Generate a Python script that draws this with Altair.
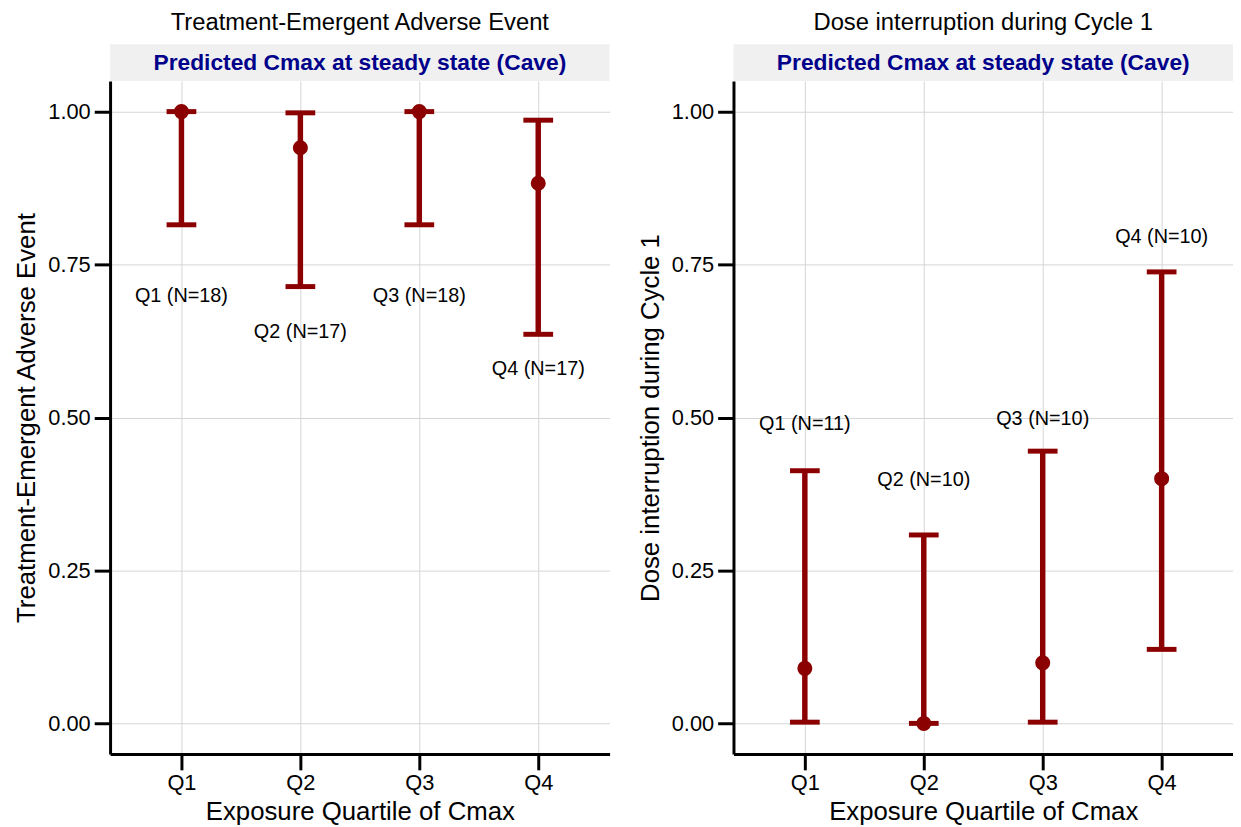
import altair as alt
import pandas as pd

# ---- data ----
quartiles = ["Q1", "Q2", "Q3", "Q4"]

tea_est = [1.000, 0.941, 1.000, 0.883]
tea_lo = [0.815, 0.714, 0.815, 0.636]
tea_hi = [1.000, 0.998, 1.000, 0.986]
tea_lab = ["Q1 (N=18)", "Q2 (N=17)", "Q3 (N=18)", "Q4 (N=17)"]
tea_lab_y = [0.699, 0.639, 0.699, 0.580]

di_est = [0.090, 0.000, 0.099, 0.400]
di_lo = [0.002, 0.000, 0.002, 0.121]
di_hi = [0.413, 0.308, 0.445, 0.738]
di_lab = ["Q1 (N=11)", "Q2 (N=10)", "Q3 (N=10)", "Q4 (N=10)"]
di_lab_y = [0.489, 0.398, 0.498, 0.795]

y_ticks = [0.0, 0.25, 0.5, 0.75, 1.0]
strip_text = "Predicted Cmax at steady state (Cave)"
x_title = "Exposure Quartile of Cmax"

F = "Liberation Sans"
RED = "#8B0000"
W = 504
H = 679
SH = 37


def panel(title, ytitle, est, lo, hi, labels, laby):
    df = pd.DataFrame({"q": quartiles, "est": est, "lo": lo, "hi": hi,
                       "lab": labels, "laby": laby})
    x = alt.X("q:N", title=x_title, sort=quartiles,
              scale=alt.Scale(type="point", padding=0.6),
              axis=alt.Axis(labelAngle=0, labelPadding=3, titlePadding=5))
    yscale = alt.Scale(domain=[-0.05, 1.05], nice=False, zero=False)
    yaxis = alt.Axis(values=y_ticks, format=".2f", labelPadding=4, titlePadding=8)

    def Y(f):
        return alt.Y(f"{f}:Q", title=ytitle, scale=yscale, axis=yaxis)

    base = alt.Chart(df)
    rule = base.mark_rule(color=RED, strokeWidth=5.5).encode(x=x, y=Y("lo"), y2="hi:Q")
    cap_lo = base.mark_tick(color=RED, size=30, thickness=5, opacity=1).encode(x=x, y=Y("lo"))
    cap_hi = base.mark_tick(color=RED, size=30, thickness=5, opacity=1).encode(x=x, y=Y("hi"))
    pts = base.mark_point(filled=True, size=230, color=RED, opacity=1, strokeWidth=0).encode(x=x, y=Y("est"))
    txt = base.mark_text(font=F, fontSize=20, color="black").encode(x=x, y=Y("laby"), text="lab:N")

    sdf = pd.DataFrame({"t": [strip_text]})
    srect = alt.Chart(sdf).mark_rect(color="#f0f0f0").encode(
        x=alt.value(0), x2=alt.value(W), y=alt.value(-SH), y2=alt.value(0))
    stext = alt.Chart(sdf).mark_text(font=F, fontSize=23, fontWeight="bold", color="#00008B").encode(
        x=alt.value(W / 2), y=alt.value(-SH / 2), text="t:N")

    return alt.layer(srect, stext, rule, cap_lo, cap_hi, pts, txt).properties(
        width=W, height=H,
        title=alt.TitleParams(title, font=F, fontSize=24, fontWeight="normal",
                              color="black", offset=9, anchor="middle", frame="group"))


left = panel("Treatment-Emergent Adverse Event", "Treatment-Emergent Adverse Event",
             tea_est, tea_lo, tea_hi, tea_lab, tea_lab_y)
right = panel("Dose interruption during Cycle 1", "Dose interruption during Cycle 1",
              di_est, di_lo, di_hi, di_lab, di_lab_y)

chart = alt.hconcat(left, right, spacing=28).properties(
    padding={"left": 6, "top": 0, "right": 0, "bottom": 0}
).configure_view(
    stroke=None
).configure_axis(
    labelFont=F, titleFont=F, labelFontSize=22, titleFontSize=26,
    labelColor="black", titleColor="black", titleFontWeight="normal",
    domainColor="black", domainWidth=3, tickColor="black", tickWidth=3, tickSize=16,
    gridColor="#d4d4d4", gridWidth=1,
).configure_axisY(grid=True).configure_axisX(grid=True)

chart.save("out.html", embed_options={"renderer": "svg", "actions": False})
